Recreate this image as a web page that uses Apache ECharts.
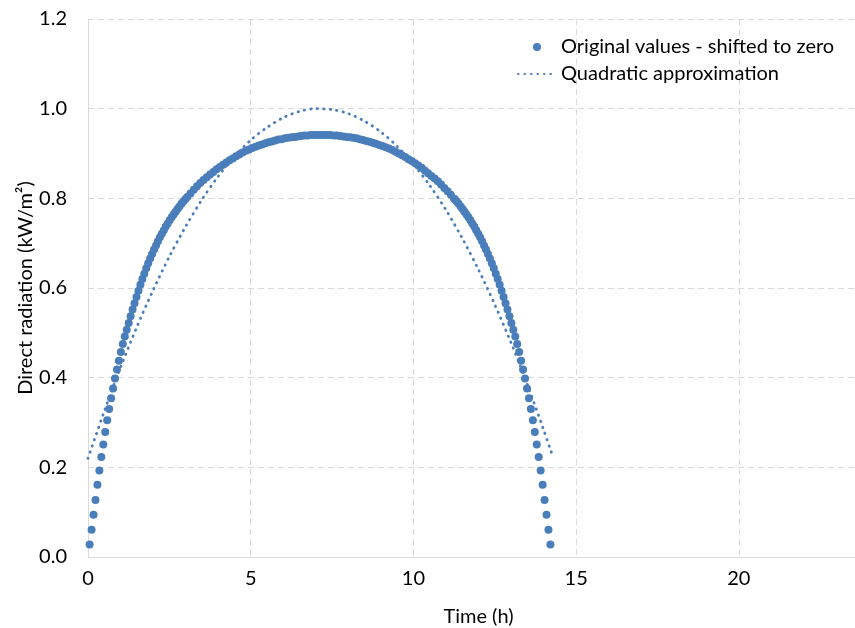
<!DOCTYPE html>
<html>
<head>
<meta charset="utf-8">
<script src="https://cdn.jsdelivr.net/npm/echarts@6/dist/echarts.min.js"></script>
<style>
html,body{margin:0;padding:0;background:#fff;overflow:hidden;width:855px;height:628px;}
#chart{width:880px;height:628px;}
</style>
</head>
<body>
<div id="chart"></div>
<script>
// Original values - shifted to zero (time in h, radiation in kW/m2)
const timeH = [
0.05,0.11,0.17,0.23,0.29,0.35,0.41,0.47,0.53,0.59,0.65,0.71,0.77,0.83,0.89,0.95,1.01,1.07,1.13,1.19,1.25,1.31,1.37,1.43,1.49,1.55,1.61,1.67,1.73,1.79,1.85,1.91,1.97,2.03,2.09,2.15,2.21,2.27,2.33,2.39,2.45,2.51,2.57,2.63,2.69,2.75,2.81,2.87,2.93,2.99,
3.05,3.15,3.25,3.35,3.45,3.55,3.65,3.75,3.85,3.95,4.05,4.15,4.25,4.35,4.45,4.55,4.65,4.75,4.85,4.95,5.05,5.15,5.25,5.35,5.45,5.55,5.65,5.75,5.85,5.95,6.05,6.15,6.25,6.35,6.45,6.55,6.65,6.75,6.85,6.95,7.05,
7.15,7.25,7.35,7.45,7.55,7.65,7.75,7.85,7.95,8.05,8.15,8.25,8.35,8.45,8.55,8.65,8.75,8.85,8.95,9.05,9.15,9.25,9.35,9.45,9.55,9.65,9.75,9.85,9.95,10.05,10.15,10.25,10.35,10.45,10.55,10.65,10.75,10.85,10.95,11.05,11.15,11.25,
11.27,11.33,11.39,11.45,11.51,11.57,11.63,11.69,11.75,11.81,11.87,11.93,11.99,12.05,12.11,12.17,12.23,12.29,12.35,12.41,12.47,12.53,12.59,12.65,12.71,12.77,12.83,12.89,12.95,13.01,13.07,13.13,13.19,13.25,13.31,13.37,13.43,13.49,13.55,13.61,13.67,13.73,13.79,13.85,13.91,13.97,14.03,14.09,14.15,14.21
];
const radiation = [
0.028,0.061,0.094,0.127,0.161,0.193,0.223,0.251,0.279,0.305,0.330,0.354,0.376,0.398,0.418,0.438,0.457,0.475,0.492,0.507,0.522,0.537,0.552,0.566,0.580,0.594,0.607,0.620,0.632,0.644,0.655,0.666,0.676,0.686,0.695,0.704,0.713,0.721,0.729,0.737,0.744,0.751,0.758,0.764,0.770,0.776,0.782,0.788,0.793,0.798,
0.803,0.811,0.819,0.827,0.834,0.841,0.847,0.853,0.859,0.865,0.870,0.875,0.880,0.885,0.889,0.894,0.898,0.902,0.906,0.909,0.912,0.915,0.918,0.920,0.923,0.925,0.927,0.929,0.931,0.932,0.934,0.935,0.936,0.937,0.938,0.939,0.940,0.940,0.941,0.941,0.941,
0.941,0.941,0.941,0.941,0.940,0.940,0.939,0.938,0.937,0.936,0.935,0.934,0.932,0.930,0.928,0.926,0.924,0.922,0.919,0.917,0.914,0.911,0.908,0.904,0.900,0.896,0.892,0.887,0.883,0.878,0.873,0.868,0.862,0.856,0.850,0.844,0.838,0.831,0.823,0.816,0.808,0.799,
0.798,0.793,0.788,0.782,0.776,0.770,0.764,0.758,0.751,0.744,0.737,0.729,0.721,0.713,0.704,0.695,0.686,0.676,0.666,0.655,0.644,0.632,0.620,0.607,0.594,0.580,0.566,0.552,0.537,0.522,0.507,0.492,0.475,0.457,0.438,0.418,0.398,0.376,0.354,0.330,0.305,0.279,0.251,0.223,0.193,0.161,0.127,0.094,0.061,0.028
];
// Quadratic approximation
const quadTime = [0,0.5,1,1.5,2,2.5,3,3.5,4,4.5,5,5.5,6,6.5,7,7.5,8,8.5,9,9.5,10,10.5,11,11.5,12,12.5,13,13.5,14,14.24];
const quadValue = [0.220,0.325,0.423,0.513,0.595,0.670,0.737,0.797,0.849,0.893,0.930,0.958,0.980,0.994,1.000,0.998,0.989,0.972,0.948,0.916,0.876,0.829,0.774,0.711,0.641,0.563,0.478,0.385,0.284,0.233];

const seriesNames = ['Original values - shifted to zero', 'Quadratic approximation'];
const xTicks = [0, 5, 10, 15, 20];
const yTicks = [0.0, 0.2, 0.4, 0.6, 0.8, 1.0, 1.2];

const blue = '#4a7ebb';
const font = 'Lato, "Open Sans", sans-serif';
const grey = '#d9d9d9';
const fs = 20;

const chart = echarts.init(document.getElementById('chart'), null, {renderer: 'canvas'});
chart.setOption({
  animation: false,
  backgroundColor: '#fff',
  textStyle: {fontFamily: font},
  grid: {left: 88, right: 11, top: 19, bottom: 71, containLabel: false, outerBoundsMode: 'none'},
  legend: {
    orient: 'vertical',
    left: 512,
    top: 32,
    itemWidth: 38,
    itemHeight: 8,
    itemGap: 7,
    textStyle: {fontFamily: font, fontSize: fs, lineHeight: 20, color: '#000'},
    data: [
      {name: seriesNames[0], icon: 'circle'},
      {name: seriesNames[1], itemStyle: {color: 'rgba(0,0,0,0)', borderWidth: 0}}
    ]
  },
  xAxis: {
    type: 'value',
    min: 0,
    max: 24,
    interval: 5,
    name: 'Time (h)',
    nameLocation: 'middle',
    nameGap: 50,
    nameMoveOverlap: false,
    nameTextStyle: {fontFamily: font, fontSize: fs, color: '#000'},
    axisLine: {show: true, lineStyle: {color: grey, width: 1}},
    axisTick: {show: false},
    axisLabel: {
      fontFamily: font, fontSize: fs, color: '#000', margin: 12,
      formatter: v => (xTicks.indexOf(v) >= 0 ? String(v) : '')
    },
    splitLine: {show: true, lineStyle: {color: grey, type: [6, 4], width: 1}}
  },
  yAxis: {
    type: 'value',
    min: 0,
    max: 1.2,
    interval: 0.2,
    name: 'Direct radiation (kW/m²)',
    nameLocation: 'middle',
    nameGap: 52,
    nameMoveOverlap: false,
    nameRotate: 90,
    nameTextStyle: {fontFamily: font, fontSize: fs, color: '#000'},
    axisLine: {show: true, lineStyle: {color: grey, width: 1}},
    axisTick: {show: false},
    axisLabel: {
      fontFamily: font, fontSize: fs, color: '#000', margin: 21,
      padding: [4, 0, 0, 0],
      formatter: v => {
        const t = yTicks.find(k => Math.abs(k - v) < 1e-9);
        return t === undefined ? '' : t.toFixed(1);
      }
    },
    splitLine: {show: true, lineStyle: {color: grey, type: [6, 4], width: 1}}
  },
  series: [
    {
      name: seriesNames[0],
      type: 'scatter',
      symbol: 'circle',
      symbolSize: 8,
      itemStyle: {color: blue, opacity: 1},
      data: timeH.map((t, i) => [t, radiation[i]]),
      z: 2
    },
    {
      name: seriesNames[1],
      type: 'line',
      showSymbol: false,
      symbol: 'none',
      smooth: 0.3,
      itemStyle: {color: blue},
      lineStyle: {color: blue, width: 2.75, type: [0.5, 6], cap: 'round'},
      data: quadTime.map((t, i) => [t, quadValue[i]]),
      z: 3
    }
  ]
});
</script>
</body>
</html>
